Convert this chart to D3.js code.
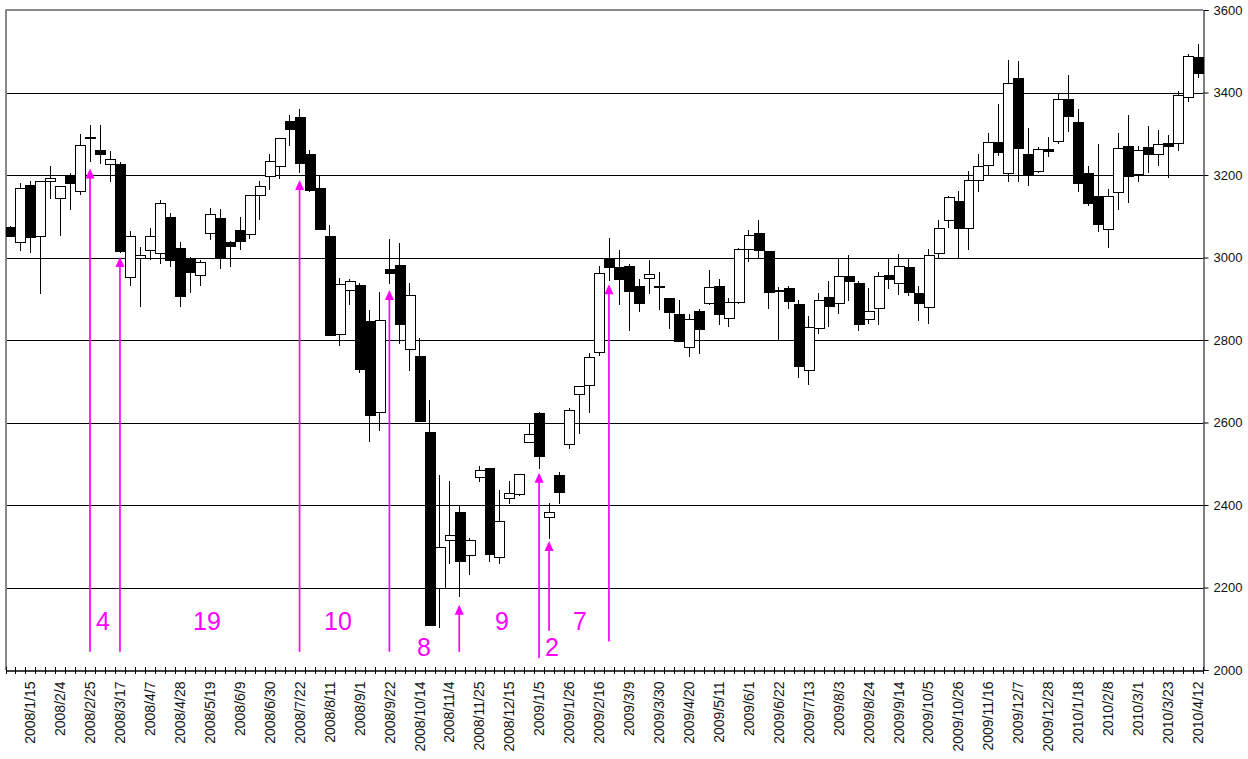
<!DOCTYPE html>
<html><head><meta charset="utf-8">
<script src="https://cdn.jsdelivr.net/npm/d3@7"></script>
<style>body{margin:0;background:#fff}svg{display:block}</style>
</head><body><svg id="c" width="1248" height="759"></svg>
<script>
const categories = [
"2008/1/4","2008/1/7","2008/1/15","2008/1/21","2008/1/28","2008/2/4","2008/2/12","2008/2/18","2008/2/25","2008/3/3",
"2008/3/10","2008/3/17","2008/3/24","2008/3/31","2008/4/7","2008/4/14","2008/4/21","2008/4/28","2008/5/7","2008/5/12",
"2008/5/19","2008/5/26","2008/6/2","2008/6/9","2008/6/16","2008/6/23","2008/6/30","2008/7/7","2008/7/14","2008/7/22",
"2008/7/28","2008/8/4","2008/8/11","2008/8/18","2008/8/25","2008/9/1","2008/9/8","2008/9/16","2008/9/22","2008/9/29",
"2008/10/6","2008/10/14","2008/10/20","2008/10/27","2008/11/4","2008/11/10","2008/11/17","2008/11/25","2008/12/1","2008/12/8",
"2008/12/15","2008/12/22","2008/12/29","2009/1/5","2009/1/13","2009/1/19","2009/1/26","2009/2/2","2009/2/9","2009/2/16",
"2009/2/23","2009/3/2","2009/3/9","2009/3/16","2009/3/23","2009/3/30","2009/4/6","2009/4/13","2009/4/20","2009/4/27",
"2009/5/7","2009/5/11","2009/5/18","2009/5/25","2009/6/1","2009/6/8","2009/6/15","2009/6/22","2009/6/29","2009/7/6",
"2009/7/13","2009/7/21","2009/7/27","2009/8/3","2009/8/10","2009/8/17","2009/8/24","2009/8/31","2009/9/7","2009/9/14",
"2009/9/24","2009/9/28","2009/10/5","2009/10/13","2009/10/19","2009/10/26","2009/11/2","2009/11/9","2009/11/16","2009/11/24",
"2009/11/30","2009/12/7","2009/12/14","2009/12/21","2009/12/28","2010/1/4","2010/1/12","2010/1/18","2010/1/25","2010/2/1",
"2010/2/8","2010/2/15","2010/2/22","2010/3/1","2010/3/8","2010/3/15","2010/3/23","2010/3/29","2010/4/5","2010/4/12"];

const openV = [
3073,3037,3176,3052,3185,3144,3200,3161,3289,3260, 3227,3226,2952,2999,3019,3011,3098,3022,2998,2957,
3059,3096,3037,3067,3057,3151,3197,3223,3330,3340, 3252,3169,3053,2814,2921,2934,2846,2626,2972,2981,
2779,2761,2577,2200,2314,2383,2280,2467,2489,2273, 2418,2426,2553,2622,2372,2472,2549,2669,2691,2771,
2996,2978,2980,2930,2951,2932,2901,2862,2783,2871, 2889,2932,2854,2893,3020,3059,3015,2921,2927,2888,
2727,2829,2905,2890,2954,2939,2850,2878,2957,2937, 2976,2915,2880,3012,3090,3137,3071,3188,3224,3280,
3205,3434,3252,3210,3264,3283,3385,3329,3205,3150, 3068,3160,3271,3203,3269,3252,3278,3278,3390,3485];
const highV = [
3077,3180,3185,3185,3222,3173,3206,3299,3321,3321, 3259,3232,3064,3025,3071,3140,3109,3038,3002,2993,
3120,3118,3040,3099,3152,3185,3250,3289,3345,3361, 3260,3198,3079,2950,2948,2939,2872,2916,3044,3036,
2939,2804,2654,2472,2458,2398,2320,2495,2489,2436, 2457,2474,2599,2625,2406,2479,2635,2688,2769,2980,
3047,3018,2985,2947,2993,2966,2903,2898,2864,2874, 2969,2947,2902,3022,3067,3091,3015,2929,2932,2896,
2859,2913,2943,3000,3006,2942,2925,2964,3000,3008, 2996,2930,3020,3090,3150,3162,3209,3252,3303,3371,
3479,3476,3315,3268,3293,3400,3442,3359,3223,3274, 3167,3301,3345,3271,3320,3310,3296,3403,3493,3518];
const lowV = [
3051,3016,3011,2912,3142,3051,3114,3151,3232,3226, 3182,3010,2932,2880,2993,2984,2977,2880,2915,2930,
3043,2973,2976,3017,3045,3090,3164,3191,3271,3206, 3160,3068,2811,2786,2884,2720,2553,2580,2935,2790,
2725,2602,2109,2103,2258,2176,2231,2455,2263,2258, 2403,2422,2553,2487,2318,2402,2536,2571,2623,2762,
2943,2884,2821,2867,2912,2872,2827,2794,2760,2765, 2886,2836,2832,2887,2989,2996,2876,2800,2876,2707,
2690,2815,2832,2864,2894,2821,2840,2837,2923,2908, 2906,2845,2840,3000,3071,3000,3018,3160,3200,3245,
3182,3184,3174,3206,3243,3275,3304,3158,3125,3061, 3024,3114,3132,3182,3206,3221,3192,3258,3376,3435];
const closeV = [
3053,3168,3049,3185,3192,3173,3181,3272,3291,3250, 3238,3015,3052,3006,3052,3132,2994,2906,2964,2988,
3106,2998,3027,3039,3151,3173,3233,3289,3312,3228, 3164,3070,2811,2936,2943,2730,2618,2848,2963,2839,
2910,2603,2109,2299,2327,2265,2316,2484,2282,2361, 2428,2474,2573,2519,2382,2432,2631,2688,2758,2963,
2977,2948,2919,2889,2961,2930,2867,2797,2851,2826, 2929,2863,2893,3020,3054,3019,2916,2919,2894,2736,
2832,2898,2882,2956,2943,2838,2871,2954,2948,2980, 2916,2889,3007,3071,3146,3072,3188,3222,3280,3256,
3424,3265,3200,3264,3258,3385,3343,3180,3132,3080, 3150,3266,3197,3261,3252,3276,3270,3394,3489,3447];

const yTicks = [2000,2200,2400,2600,2800,3000,3200,3400,3600];

// annotations (magenta arrows and week counts)
const arrowDates = ["2008/2/25","2008/3/17","2008/7/22","2008/9/22","2008/11/10","2009/1/5","2009/1/13","2009/2/23"];
const arrowTips  = [3216,3001,3188,2921,2158,2478,2313,2935];
const arrowBases = [2044,2044,2044,2044,2044,2029,2095,2069];
const countLabels = ["4","19","10","8","9","2","7"];
const countWeeks  = [9.27,19.69,32.82,41.43,49.25,54.26,57.06];
const countLevels = [2097,2097,2097,2034,2097,2034,2097];

const svg = d3.select("#c");
const L = 5.5, R = 1203, T = 10, B = 670;
const x = d3.scaleBand().domain(categories).range([L, R]).padding(0);
const y = d3.scaleLinear().domain([2000, 3600]).range([B, T]);
const bw = x.bandwidth();
const crisp = v => Math.round(v) + 0.5;
const MAG = "#ff00ff";

svg.append("rect").attr("width",1248).attr("height",759).attr("fill","#fff");

// gridlines
svg.append("g").selectAll("line").data(yTicks.filter(t => t > 2000 && t < 3600)).join("line")
  .attr("x1", L).attr("x2", R)
  .attr("y1", d => crisp(y(d))).attr("y2", d => crisp(y(d)))
  .attr("stroke", "#000").attr("stroke-width", 1);

// frame
svg.append("line").attr("x1", L).attr("x2", R).attr("y1", crisp(T)-0.5).attr("y2", crisp(T)-0.5)
  .attr("stroke", "#888").attr("stroke-width", 2);
svg.append("line").attr("x1", crisp(L)-0.5).attr("x2", crisp(L)-0.5).attr("y1", T).attr("y2", B)
  .attr("stroke", "#888").attr("stroke-width", 2);

// right axis
const yAxis = d3.axisRight(y).tickValues(yTicks).tickSize(5).tickPadding(6).tickFormat(d3.format("d"));
const ga = svg.append("g").attr("transform", `translate(${crisp(R)},0)`).call(yAxis);
ga.select(".domain").attr("stroke", "#000");
ga.selectAll(".tick line").attr("stroke", "#000");
ga.selectAll(".tick text").attr("font-family", "'Liberation Sans', Arial, sans-serif")
  .attr("font-size", 13).attr("fill", "#111").attr("x", 10);

// bottom axis
const xAxis = d3.axisBottom(x).tickSize(0).tickFormat((d, i) => (i % 3 === 2 ? d : ""));
const gx = svg.append("g").attr("transform", `translate(0,${crisp(B)})`).call(xAxis);
gx.select(".domain").attr("stroke", "#000").attr("stroke-width", 1.3);
gx.selectAll(".tick text")
  .attr("font-family", "'Liberation Sans', Arial, sans-serif").attr("font-size", 14).attr("fill", "#111")
  .attr("transform", "rotate(-90)").attr("text-anchor", "end")
  .attr("x", -11).attr("y", 0).attr("dy", "0.35em");
// category boundary ticks
svg.append("g").selectAll("line").data(categories.concat(["__end"])).join("line")
  .attr("x1", (d, i) => crisp(i < categories.length ? x(d) : R))
  .attr("x2", (d, i) => crisp(i < categories.length ? x(d) : R))
  .attr("y1", B - 3).attr("y2", B + 4)
  .attr("stroke", "#000").attr("stroke-width", 1);

// candles
const candles = categories.map((d, i) => ({d, o: openV[i], h: highV[i], l: lowV[i], c: closeV[i]}));
const gc = svg.append("g");
gc.selectAll("line.wick").data(candles).join("line").attr("class", "wick")
  .attr("x1", c => crisp(x(c.d) + bw / 2 - 0.5)).attr("x2", c => crisp(x(c.d) + bw / 2 - 0.5))
  .attr("y1", c => Math.round(y(c.h))).attr("y2", c => Math.round(y(c.l)))
  .attr("stroke", "#000").attr("stroke-width", 1);
gc.selectAll("rect.body").data(candles).join("rect").attr("class", "body")
  .attr("x", c => crisp(x(c.d)))
  .attr("width", c => Math.round(x(c.d) + bw) - Math.round(x(c.d)))
  .attr("y", c => crisp(y(Math.max(c.o, c.c))))
  .attr("height", c => Math.max(1, Math.round(y(Math.min(c.o, c.c))) - Math.round(y(Math.max(c.o, c.c)))))
  .attr("fill", c => (c.c >= c.o ? "#fff" : "#000"))
  .attr("stroke", "#000").attr("stroke-width", 1);

// arrows
const arrows = arrowDates.map((d, i) => ({d, tip: arrowTips[i], base: arrowBases[i]}));
const gArr = svg.append("g");
gArr.selectAll("line").data(arrows).join("line")
  .attr("x1", a => x(a.d) + bw / 2 - 0.3).attr("x2", a => x(a.d) + bw / 2 - 0.3)
  .attr("y1", a => y(a.tip) + 9).attr("y2", a => y(a.base))
  .attr("stroke", MAG).attr("stroke-width", 1.7);
gArr.selectAll("path").data(arrows).join("path")
  .attr("d", a => {
    const cx = x(a.d) + bw / 2 - 0.3, ty = y(a.tip);
    return `M${cx},${ty}L${cx - 4.5},${ty + 10}L${cx + 4.5},${ty + 10}Z`;
  })
  .attr("fill", MAG);

// week counts
svg.append("g").selectAll("text").data(countLabels).join("text")
  .attr("x", (d, i) => L + (countWeeks[i] + 0.5) * x.step())
  .attr("y", (d, i) => y(countLevels[i]))
  .attr("text-anchor", "middle")
  .attr("font-family", "'Liberation Sans', Arial, sans-serif").attr("font-size", 25)
  .attr("fill", MAG).text(d => d);
</script></body></html>
